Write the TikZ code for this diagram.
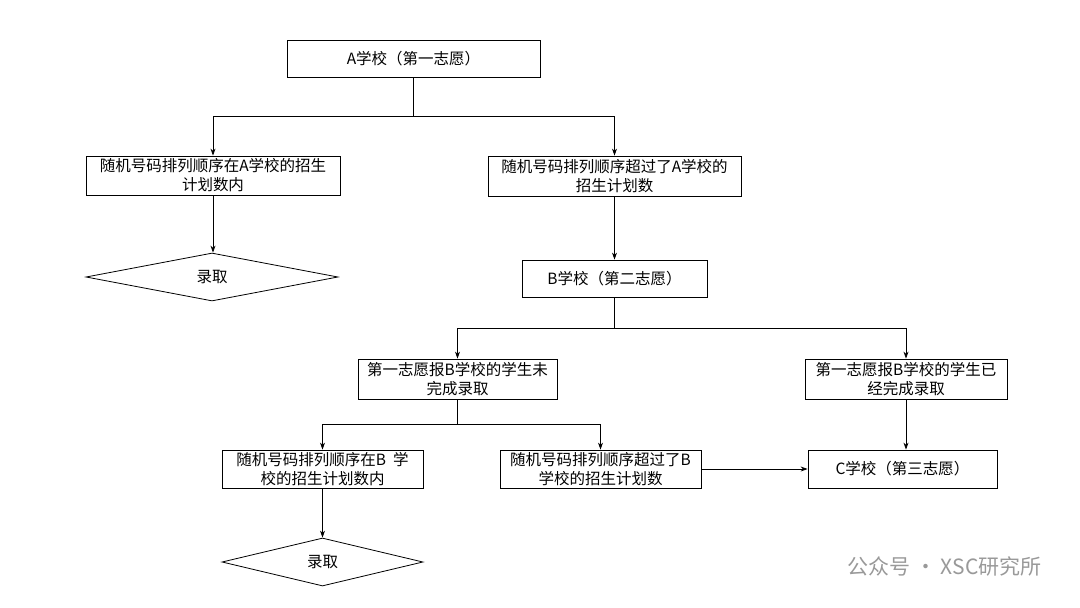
\documentclass[tikz,border=0pt]{standalone}
\usepackage{fontspec}
\setmainfont{Noto Sans CJK SC}
\usetikzlibrary{shapes.geometric,arrows.meta}
\begin{document}
\begin{tikzpicture}[x=1pt,y=-1pt,
  box/.style={draw,line width=0.8pt,inner sep=0pt,align=center,font=\fontsize{15.5}{19}\selectfont},
  arr/.style={line width=0.8pt,-{Stealth[length=7pt,width=5pt]}},
  ln/.style={line width=0.8pt}]
\useasboundingbox (0,0) rectangle (1080,608);
\node[box,minimum width=253,minimum height=37] (a) at (413.5,58.5) {A学校（第一志愿）};
\node[box,minimum width=254,minimum height=39] (l1) at (213,175.5) {随机号码排列顺序在A学校的招生\\计划数内};
\node[box,minimum width=253,minimum height=40] (r1) at (614.5,176) {随机号码排列顺序超过了A学校的\\招生计划数};
\node[draw,line width=0.8pt,shape=diamond,minimum width=252,minimum height=48,inner sep=0pt,aspect=5.25,font=\fontsize{15.5}{19}\selectfont] (d1) at (212,277) {录取};
\node[box,minimum width=185,minimum height=37] (b) at (614.5,278.5) {B学校（第二志愿）};
\node[box,minimum width=199,minimum height=40] (bl) at (457.5,379) {第一志愿报B学校的学生未\\完成录取};
\node[box,minimum width=202,minimum height=40] (br) at (906,379) {第一志愿报B学校的学生已\\经完成录取};
\node[box,minimum width=201,minimum height=38] (ll) at (322.5,469) {随机号码排列顺序在B\ \ 学\\校的招生计划数内};
\node[box,minimum width=201,minimum height=38] (lr) at (600.5,469) {随机号码排列顺序超过了B\\学校的招生计划数};
\node[box,minimum width=189,minimum height=38] (c) at (902.5,469) {C学校（第三志愿）};
\node[draw,line width=0.8pt,shape=diamond,minimum width=201,minimum height=48,inner sep=0pt,aspect=4.2,font=\fontsize{15.5}{19}\selectfont] (d2) at (322.5,562) {录取};
\coordinate (j1) at (413.5,116);
\coordinate (j2) at (614.5,328);
\coordinate (j3) at (457.5,424);
\draw[ln] (a.south) -- (j1);
\draw[arr] (j1) -| (l1.north);
\draw[arr] (j1) -| (r1.north);
\draw[arr] (l1.south) -- (l1.south |- d1.north);
\draw[arr] (r1.south) -- (b.north);
\draw[ln] (b.south) -- (j2);
\draw[arr] (j2) -| (bl.north);
\draw[arr] (j2) -| (br.north);
\draw[ln] (bl.south) -- (j3);
\draw[arr] (j3) -| (ll.north);
\draw[arr] (j3) -| (lr.north);
\draw[arr] (ll.south) -- (d2.north);
\draw[arr] (lr.east) -- (c.west);
\draw[arr] (br.south) -- (br.south |- c.north);
\node[text=gray!80,font=\fontsize{21}{24}\selectfont,anchor=east] (wm) at (1045,566) {公众号 · XSC研究所};
\end{tikzpicture}
\end{document}
